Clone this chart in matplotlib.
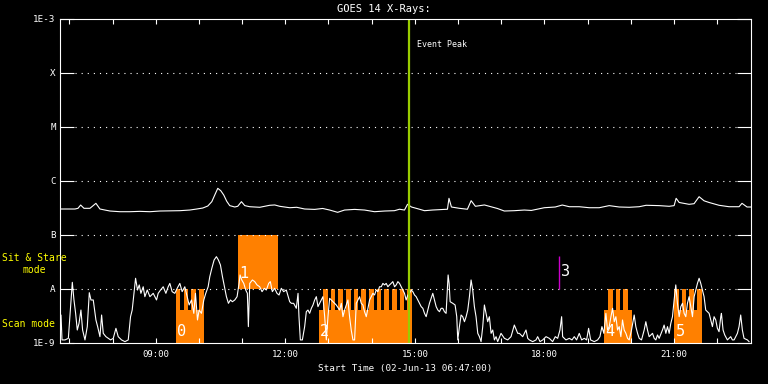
import matplotlib
matplotlib.use("Agg")
import matplotlib.pyplot as plt
from matplotlib.ticker import FixedLocator, NullLocator, FuncFormatter

# time axis: minutes after the start time 02-Jun-13 06:47:00
start_clock = 6 * 60 + 47
span_min = 16 * 60

# GOES 14 long channel (1-8 A), flux in units of 1e-7 W/m^2
long_t = [0, 9.7, 20.8, 25.0, 28.7, 33.3, 41.6, 49.9, 55.5, 62.4,
          69.4, 83.2, 97.1, 111.0, 124.9, 138.7, 152.6, 166.5, 180.3, 190.1,
          198.4, 205.3, 210.9, 215.0, 219.2, 223.4, 227.5, 231.7, 235.8, 242.8,
          246.9, 252.1, 256.7, 263.6, 277.5, 291.3, 298.3, 305.2, 319.1, 328.8,
          339.9, 353.8, 364.9, 374.6, 385.7, 395.4, 409.3, 423.1, 437.0, 450.9,
          464.7, 471.7, 478.6, 482.8, 488.3, 499.4, 506.4, 517.5, 534.1, 538.3,
          540.4, 543.8, 554.9, 566.0, 571.2, 577.1, 589.6, 596.5, 607.6, 617.3,
          631.2, 645.1, 654.8, 672.8, 688.1, 697.8, 707.6, 721.4, 735.3, 749.1,
          763.0, 776.9, 790.8, 804.6, 814.3, 832.4, 846.3, 853.2, 856.0, 860.2,
          874.0, 880.9, 887.9, 894.8, 901.8, 915.6, 929.5, 943.4, 947.5, 954.5,
          960.0]
long_f = [3.03, 3.03, 3.03, 3.12, 3.59, 3.12, 3.12, 3.86, 3.03, 2.90,
          2.78, 2.70, 2.70, 2.74, 2.70, 2.78, 2.80, 2.82, 2.90, 3.03,
          3.16, 3.44, 4.14, 5.5, 7.32, 6.6, 5.5, 4.2, 3.5, 3.3,
          3.4, 4.14, 3.5, 3.34, 3.26, 3.55, 3.6, 3.4, 3.2, 3.26,
          3.03, 2.98, 3.1, 2.90, 2.63, 2.9, 2.98, 2.9, 2.70, 2.78,
          2.82, 3.0, 2.9, 3.7, 3.3, 3.0, 2.82, 2.9, 2.98, 3.0,
          4.78, 3.3, 3.12, 3.0, 4.32, 3.4, 3.6, 3.4, 3.1, 2.78,
          2.82, 2.90, 2.85, 3.2, 3.3, 3.59, 3.34, 3.34, 3.2, 3.2,
          3.5, 3.3, 3.26, 3.34, 3.55, 3.5, 3.4, 3.5, 4.78, 4.0,
          3.7, 3.8, 5.12, 4.3, 4.0, 3.55, 3.34, 3.34, 3.86, 3.3,
          3.3]

# GOES 14 short channel (0.5-4 A), flux in units of 1e-9 W/m^2
short_t = [0, 1.4, 2.8, 6.9, 11.6, 17.1, 19.4, 21.7, 24.0, 26.4,
           29.1, 31.4, 34.7, 37.9, 40.7, 43.0, 46.2, 49.9, 52.3, 55.5,
           57.8, 60.1, 63.8, 67.1, 70.3, 74.0, 77.7, 80.9, 85.5, 90.2,
           94.8, 98.0, 100.3, 102.7, 105.0, 107.7, 110.1, 112.4, 115.6, 117.9,
           121.2, 124.9, 129.5, 134.1, 136.4, 139.7, 143.4, 147.1, 150.3, 152.6,
           155.8, 159.5, 162.8, 166.5, 169.7, 173.4, 176.6, 179.4, 182.7, 185.9,
           188.2, 191.0, 193.3, 196.5, 199.8, 202.5, 205.8, 208.1, 210.9, 214.1,
           217.3, 220.1, 222.9, 225.7, 228.4, 231.2, 234.0, 236.8, 239.5, 242.8,
           246.0, 248.8, 250.2, 252.5, 255.3, 258.0, 260.3, 261.7, 263.6, 267.3,
           270.5, 273.7, 277.4, 280.7, 283.9, 286.7, 289.9, 292.2, 295.0, 298.2,
           301.5, 304.3, 307.5, 310.7, 314.4,
           319.1, 321.4, 324.6, 328.3, 330.7, 332.0, 333.9, 336.7, 339.9, 342.2,
           344.5, 346.8, 349.2, 351.5, 353.8, 356.1, 358.4, 360.7, 363.0, 365.3,
           367.7, 370.0, 372.3, 374.6, 379.2, 383.8, 388.5, 390.8, 393.1, 395.4,
           397.7, 400.0, 402.3, 404.6, 407.0, 409.3, 411.6, 413.9, 416.2, 418.5,
           420.8, 423.1, 425.5, 427.8, 430.1, 432.4, 434.7, 437.0, 439.3, 441.6,
           443.9, 446.3, 448.6, 450.9, 453.2, 455.5, 457.8, 460.1, 462.4, 464.8,
           467.1, 469.4, 471.7, 474.0, 476.3, 478.6, 480.9, 483.3, 485.6, 487.9,
           490.2, 492.5, 494.8, 497.1, 499.4, 501.8, 504.1, 506.4, 508.7, 511.0,
           513.3, 515.6, 517.9, 520.2, 522.6, 524.9, 527.2, 529.5, 531.8, 534.1,
           536.4, 537.8, 539.2, 540.6, 542.0, 545.7, 548.9, 551.2, 552.6, 554.9,
           557.2, 559.5, 561.9, 564.2, 566.5, 568.8, 571.1, 573.4, 575.7, 578.0,
           580.4, 582.7, 585.0, 587.3, 589.6, 591.9, 594.2, 596.5, 598.9, 601.2,
           603.5, 605.8, 608.1, 612.7, 617.4, 622.0, 626.6, 631.2, 635.9,
           638.2, 640.5, 642.8, 647.4, 649.8, 652.1, 656.7, 661.3, 663.6, 666.9,
           670.6, 675.2, 679.8, 684.4, 688.1, 691.4, 694.6, 696.9, 698.3, 702.9,
           707.6, 711.3, 714.5, 717.7, 721.4, 724.7, 728.4, 731.6, 734.4, 737.2,
           742.2, 746.9, 750.1, 752.9, 755.6, 758.4, 760.7, 763.0, 765.4, 767.7,
           770.0, 772.3, 774.6, 776.9, 779.2, 781.5, 783.8, 786.2, 788.5, 790.8,
           794.0, 797.7, 800.0, 802.4, 804.7, 807.9, 811.6, 813.9, 816.2, 818.5,
           823.2, 825.5, 827.8, 830.1, 832.4, 837.0, 839.3, 841.7, 844.0, 846.3,
           848.6, 850.9, 853.2, 855.5, 857.8, 860.2, 862.5, 864.8, 867.1, 869.4,
           871.7, 874.0, 876.3, 878.7, 881.0, 883.3, 885.6, 887.9, 890.2, 892.5,
           894.8, 897.1, 899.5, 901.8, 904.1, 906.4, 908.7, 911.0, 913.3, 915.6,
           918.0, 918.9, 921.2, 923.5, 927.2, 931.8, 934.1, 936.5, 941.1, 943.4,
           945.7, 948.0, 950.3, 955.0, 957.3]
short_f = [1.0, 3.30, 1.14, 1.14, 1.22, 13.3, 6.26, 3.54, 1.74, 2.31,
           4.08, 1.74, 1.14, 2.01, 8.55, 6.26, 6.26, 2.67, 2.01, 1.31,
           3.30, 1.51, 1.31, 1.22, 1.14, 1.22, 1.87, 1.31, 1.14, 1.06,
           1.14, 3.07, 4.08, 8.31, 15.8, 9.58, 11.9, 8.31, 11.0, 7.21,
           9.58, 7.21, 8.31, 6.26, 8.31, 9.58, 11.0, 8.31, 11.0, 12.7,
           8.93, 8.31, 10.3, 12.7, 8.93, 11.0, 7.21, 5.06, 6.26, 3.54,
           8.31, 2.67, 4.08, 3.54, 6.26, 8.31, 11.0, 16.9, 24.1, 34.4,
           39.7, 34.4, 27.8, 16.9, 11.0, 7.21, 5.43, 6.26, 5.82, 6.26,
           7.21, 12.7, 18.2, 14.7, 12.7, 9.58, 8.31, 2.01, 12.7, 14.7,
           13.7, 11.9, 11.0, 8.93, 10.3, 9.58, 12.7, 13.7, 8.93, 10.3,
           8.31, 7.74, 10.3, 8.93, 9.58,
           5.82, 5.43, 5.43, 4.39, 8.31, 3.07, 1.14, 1.14, 2.01, 3.80,
           4.08, 3.54, 4.39, 5.06, 6.26, 7.21, 4.71, 5.43, 6.26, 7.21,
           3.07, 1.14, 3.07, 6.72, 5.82, 5.06, 4.08, 5.43, 3.07, 4.08,
           5.06, 6.26, 3.07, 1.74, 1.14, 1.14, 5.43, 6.26, 7.21, 5.43,
           5.06, 3.80, 3.07, 4.39, 6.26, 7.21, 8.31, 7.74, 9.58, 8.93,
           11.0, 11.0, 12.7, 11.9, 12.7, 11.0, 11.9, 12.7, 13.7, 11.0,
           11.9, 13.7, 12.7, 11.0, 9.58, 8.31, 6.26, 7.74, 8.31, 9.58,
           8.93, 7.74, 7.21, 6.26, 5.43, 4.71, 4.39, 3.54, 3.07, 4.08,
           5.43, 6.72, 8.31, 6.26, 4.71, 4.08, 3.80, 4.39, 4.39, 3.80,
           3.54, 8.31, 18.2, 12.7, 5.82, 5.43, 5.06, 3.07, 1.14, 2.01,
           3.30, 3.07, 2.48, 3.07, 4.08, 7.21, 14.7, 9.58, 4.71, 3.07,
           1.51, 1.31, 1.06, 2.01, 5.06, 3.54, 2.48, 3.07, 1.51, 1.74,
           1.14, 1.31, 1.06, 1.51, 1.22, 1.14, 1.31, 2.15, 1.51,
           1.51, 1.41, 1.31, 1.74, 1.22, 1.14, 1.06, 1.14, 1.31, 1.06,
           1.14, 1.31, 1.22, 1.06, 1.31, 1.22, 1.74, 3.07, 1.31, 1.14,
           1.22, 1.14, 1.31, 1.14, 1.51, 1.14, 1.22, 1.14, 1.87, 1.14,
           1.06, 1.14, 1.31, 2.01, 1.51, 3.54, 1.74, 2.01, 3.07, 4.39,
           2.48, 3.07, 1.74, 2.01, 1.31, 2.67, 1.74, 1.51, 1.22, 1.14,
           1.74, 3.30, 2.01, 1.51, 1.22, 1.14, 1.74, 2.48, 1.74, 1.31,
           1.51, 1.22, 1.14, 1.41, 1.22, 1.74, 2.15, 1.51, 2.01, 1.51,
           2.31, 3.07, 6.26, 11.9, 5.43, 3.07, 4.71, 5.43, 3.54, 3.07,
           5.43, 7.21, 4.71, 3.07, 7.21, 9.58, 12.7, 15.8, 12.7, 9.58,
           7.21, 4.08, 3.80, 3.54, 2.67, 2.01, 3.07, 2.67, 1.87, 1.62,
           3.07, 3.54, 1.74, 1.41, 1.14, 1.31, 1.14, 1.14, 1.51, 2.01,
           3.30, 1.74, 1.22, 1.14, 1.06]

# IRIS observing blocks (minutes after start)
scan_start = [160.9, 359.3, 756.1, 853.2]
scan_end = [199.4, 488.8, 794.5, 891.6]
scan_names = ['0', '2', '4', '5']
step_start = [160.9, 172.6, 182.3, 193.2,
              365.3, 375.9, 386.6, 397.2, 407.9, 418.5, 429.1, 439.8, 450.4, 461.1, 471.7, 482.3,
              761.6, 771.8, 781.5,
              853.2, 863.9, 874.5, 885.1]
step_end = [167.4, 178.1, 188.3, 199.4,
            371.8, 382.4, 393.1, 403.7, 414.4, 425.0, 435.6, 446.3, 456.9, 467.6, 478.2, 488.8,
            768.1, 777.8, 788.5,
            859.7, 870.3, 881.0, 891.6]
stare_start = [246.9]
stare_end = [303.4]
stare_names = ['1']
scan_low, scan_high = 4.1e-9, 1e-8
stare_low, stare_high = 1e-8, 1e-7

event_peak = 484.2
marker_t, marker_low, marker_high, marker_name = 693.6, 1e-8, 4.1e-8, '3'

levels = [1e-9, 1e-8, 1e-7, 1e-6, 1e-5, 1e-4, 1e-3]
level_names = ['1E-9', 'A', 'B', 'C', 'M', 'X', '1E-3']

plt.rcParams['lines.scale_dashes'] = False
plt.rcParams['font.family'] = 'DejaVu Sans Mono'

fig = plt.figure(figsize=(7.68, 3.84), dpi=100, facecolor='black')
ax = fig.add_axes([60 / 768, 41 / 384, 691 / 768, 324 / 384], facecolor='black')

orange = '#ff8000'
for s, e in zip(scan_start, scan_end):
    ax.bar(s, scan_low - 1e-9, width=e - s, bottom=1e-9, align='edge', color=orange, linewidth=0)
for s, e in zip(step_start, step_end):
    ax.bar(s, scan_high - 1e-9, width=e - s, bottom=1e-9, align='edge', color=orange, linewidth=0)
for s, e in zip(stare_start, stare_end):
    ax.bar(s, stare_high - stare_low, width=e - s, bottom=stare_low, align='edge', color=orange, linewidth=0)

for lv in levels[1:-1]:
    ax.axhline(lv, xmin=0.022, xmax=0.978, color='white', lw=0.8, ls=(0, (0.8, 3.6)))

ax.plot(long_t, [v * 1e-7 for v in long_f], color='white', lw=0.8)
ax.plot(short_t, [v * 1e-9 for v in short_f], color='white', lw=0.8)

ax.axvline(event_peak, color='#99cc00', lw=1.6)
ax.annotate('Event Peak', xy=(event_peak, 3.4e-4), xytext=(6, 0), textcoords='offset points',
            color='white', fontsize=6, va='center')
ax.vlines(marker_t, marker_low, marker_high, color='#cc00cc', lw=1.0)
ax.annotate(marker_name, xy=(marker_t, marker_high), xytext=(1, -6), textcoords='offset points',
            color='white', fontsize=11, va='top', ha='left')

for s, name in zip(scan_start, scan_names):
    ax.annotate(name, xy=(s, 1e-9), xytext=(1, 3), textcoords='offset points',
                color='white', fontsize=11, va='bottom', ha='left')
for s, name in zip(stare_start, stare_names):
    ax.annotate(name, xy=(s, stare_low), xytext=(1, 6), textcoords='offset points',
                color='white', fontsize=11, va='bottom', ha='left')

ax.set_yscale('log')
ax.set_ylim(levels[0], levels[-1])
ax.set_xlim(0, span_min)
ax.yaxis.set_major_locator(FixedLocator(levels))
ax.yaxis.set_minor_locator(NullLocator())
ax.set_yticklabels(level_names)

hours = range(7, 23)
ax.xaxis.set_minor_locator(FixedLocator([h * 60 - start_clock for h in hours]))
ax.xaxis.set_major_locator(FixedLocator([h * 60 - start_clock for h in hours if h % 3 == 0]))
ax.xaxis.set_major_formatter(FuncFormatter(lambda x, p: '%02d:00' % round((x + start_clock) / 60)))

ax.tick_params(axis='y', which='both', direction='in', length=10, width=0.8, right=True,
               colors='white', labelsize=6.7, pad=3)
ax.tick_params(axis='x', which='both', direction='in', length=3.6, width=0.8, top=True,
               colors='white', labelsize=6.5, pad=5)
for sp in ax.spines.values():
    sp.set_color('white')
    sp.set_linewidth(0.8)

fig.text(0.5, 1 - 9 / 384, 'GOES 14 X-Rays:', ha='center', va='center', color='white', fontsize=7.5)
fig.text(405 / 768, 1 - 369 / 384, 'Start Time (02-Jun-13 06:47:00)', ha='center', va='center',
         color='white', fontsize=6.7)
fig.text(34 / 768, 1 - 264 / 384, 'Sit & Stare\nmode', ha='center', va='center', color='yellow',
         fontsize=7, linespacing=1.25)
fig.text(28 / 768, 1 - 324 / 384, 'Scan mode', ha='center', va='center', color='yellow', fontsize=7)

fig.savefig('out.png', dpi=100, facecolor='black')
